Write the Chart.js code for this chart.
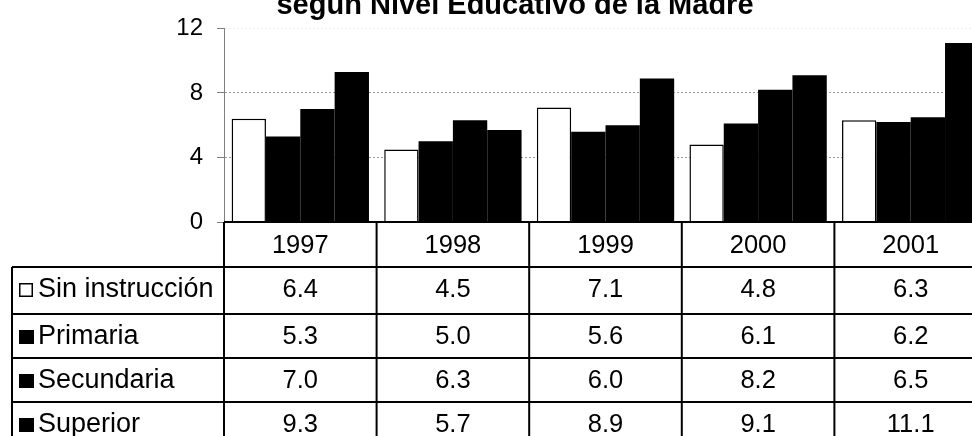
<!DOCTYPE html>
<html>
<head>
<meta charset="utf-8">
<script src="https://cdn.jsdelivr.net/npm/chart.js@4/dist/chart.umd.min.js"></script>
<style>
  html, body { margin: 0; padding: 0; background: #fff; overflow: hidden; }
  #wrap { width: 990px; height: 436px; }
</style>
</head>
<body>
<div id="wrap"><canvas id="grafico"></canvas></div>
<script>
// Datos por año y nivel educativo de la madre
const years = ['1997', '1998', '1999', '2000', '2001'];
const sinInstruccion = [6.4, 4.5, 7.1, 4.8, 6.3];
const primaria = [5.3, 5.0, 5.6, 6.1, 6.2];
const secundaria = [7.0, 6.3, 6.0, 8.2, 6.5];
const superior = [9.3, 5.7, 8.9, 9.1, 11.1];
const seriesNames = ['Sin instrucción', 'Primaria', 'Secundaria', 'Superior'];
const yTicks = [0, 4, 8, 12];
const titulo = 'según Nivel Educativo de la Madre';

const FONT = "'Liberation Sans', Arial, sans-serif";

// tabla de datos debajo del gráfico, alineada con las categorías del eje x
const tablaPlugin = {
    id: 'tabla',
    afterDraw(chart) {
        const ctx = chart.ctx;
        const xs = chart.scales.x;
        const area = chart.chartArea;
        const colW = (area.right - area.left) / years.length;
        const left = 12;
        const yAxis = area.bottom;
        const rowTops = [267, 314, 358, 402];
        const rowH = 46;
        const bottom = 460;
        const series = [sinInstruccion, primaria, secundaria, superior];

        ctx.save();
        ctx.strokeStyle = '#000';
        ctx.lineWidth = 2;
        ctx.beginPath();
        // eje x / borde superior de la fila de años
        ctx.moveTo(area.left, yAxis);
        ctx.lineTo(area.right, yAxis);
        rowTops.forEach(y => {
            ctx.moveTo(left, y);
            ctx.lineTo(area.right, y);
        });
        ctx.moveTo(left, rowTops[0]);
        ctx.lineTo(left, bottom);
        for (let k = 0; k < years.length; k++) {
            const x = area.left + k * colW;
            ctx.moveTo(x, yAxis);
            ctx.lineTo(x, bottom);
        }
        ctx.stroke();

        ctx.fillStyle = '#000';
        ctx.textAlign = 'center';
        ctx.textBaseline = 'middle';
        ctx.font = '25.5px ' + FONT;
        years.forEach((yr, i) => {
            ctx.fillText(yr, xs.getPixelForValue(i), (yAxis + rowTops[0]) / 2 + 1);
        });
        series.forEach((vals, r) => {
            const cy = rowTops[r] + rowH / 2;
            vals.forEach((v, i) => {
                ctx.fillText(v.toFixed(1), xs.getPixelForValue(i), cy);
            });
        });

        // leyenda en la primera columna
        ctx.textAlign = 'left';
        ctx.font = '27px ' + FONT;
        seriesNames.forEach((name, r) => {
            const cy = rowTops[r] + rowH / 2;
            if (r === 0) {
                ctx.fillStyle = '#fff';
                ctx.fillRect(19, cy - 7, 14, 14);
                ctx.lineWidth = 1.5;
                ctx.strokeRect(19.75, cy - 6.25, 12.5, 12.5);
            } else {
                ctx.fillStyle = '#000';
                ctx.fillRect(19, cy - 7, 15, 14);
            }
            ctx.fillStyle = '#000';
            ctx.fillText(name, 38, cy);
        });

        // título
        ctx.textAlign = 'center';
        ctx.textBaseline = 'alphabetic';
        ctx.font = 'bold 29px ' + FONT;
        ctx.fillText(titulo, 515, 14);
        ctx.restore();
    }
};

new Chart(document.getElementById('grafico'), {
    type: 'bar',
    data: {
        labels: years,
        datasets: [
            { label: seriesNames[0], data: sinInstruccion, backgroundColor: '#fff', borderColor: '#000', borderWidth: 1.5 },
            { label: seriesNames[1], data: primaria, backgroundColor: '#000', borderWidth: 0 },
            { label: seriesNames[2], data: secundaria, backgroundColor: '#000', borderWidth: 0 },
            { label: seriesNames[3], data: superior, backgroundColor: '#000', borderWidth: 0 }
        ]
    },
    options: {
        responsive: true,
        maintainAspectRatio: false,
        animation: false,
        layout: { padding: { left: 0, top: 27, right: 3, bottom: 214 } },
        datasets: { bar: { categoryPercentage: 0.9, barPercentage: 1.0 } },
        plugins: { legend: { display: false }, tooltip: { enabled: false }, title: { display: false } },
        scales: {
            x: { display: false },
            y: {
                min: 0,
                max: 12,
                afterFit: s => { s.width = 224; },
                afterBuildTicks: s => { s.ticks = yTicks.map(v => ({ value: v })); },
                ticks: { color: '#000', padding: 14, font: { family: FONT, size: 24 } },
                grid: {
                    tickLength: 7,
                    tickColor: '#808080',
                    color: c => c.tick.value === 0 ? 'rgba(0,0,0,0)' : (c.tick.value === 12 ? '#ececec' : '#9a9a9a'),
                    lineWidth: 1
                },
                border: { color: '#808080', width: 1, dash: [2, 2] }
            }
        }
    },
    plugins: [tablaPlugin]
});
</script>
</body>
</html>
